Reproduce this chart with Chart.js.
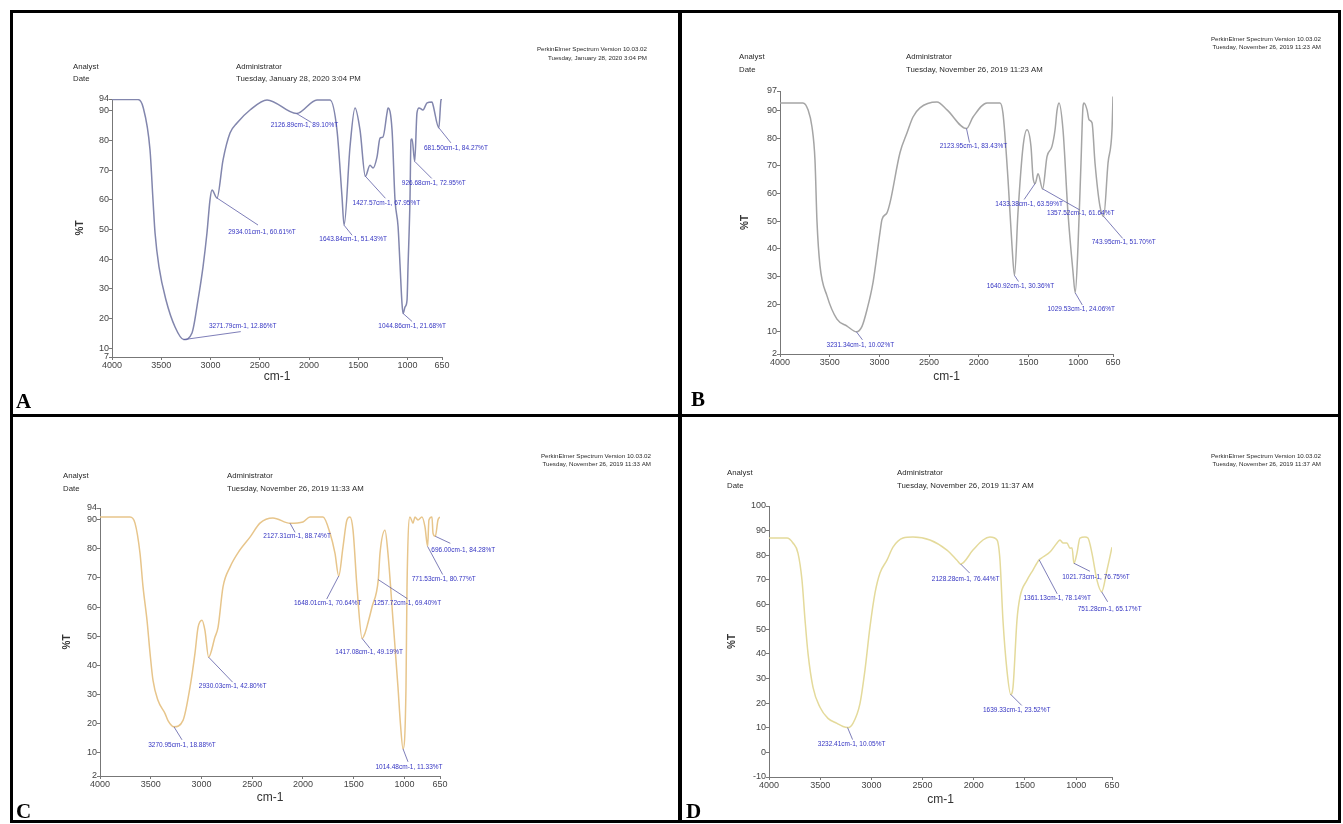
<!DOCTYPE html>
<html>
<head>
<meta charset="utf-8">
<title>FTIR spectra A-D</title>
<script src="https://cdn.jsdelivr.net/npm/chart.js@4.4.1/dist/chart.umd.min.js"></script>
<style>
  body { margin: 0; background: #fff; }
  #page { position: relative; width: 1343px; height: 824px; overflow: hidden; background: #fff; }
  #page canvas { position: absolute; left: 0; top: 0; }
  .rule { position: absolute; background: #000; }
</style>
</head>
<body>
<div id="page">
  <div class="rule" style="left:10px;top:10px;width:1331px;height:3px"></div>
  <div class="rule" style="left:10px;top:414px;width:1331px;height:3px"></div>
  <div class="rule" style="left:10px;top:820px;width:1331px;height:3px"></div>
  <div class="rule" style="left:10px;top:10px;width:3px;height:813px"></div>
  <div class="rule" style="left:678px;top:10px;width:4px;height:813px"></div>
  <div class="rule" style="left:1338px;top:10px;width:3px;height:813px"></div>
  <canvas id="chartA" width="1343" height="824"></canvas>
  <canvas id="chartB" width="1343" height="824"></canvas>
  <canvas id="chartC" width="1343" height="824"></canvas>
  <canvas id="chartD" width="1343" height="824"></canvas>
</div>
<script>
// wavenumber axis, shared by all four spectra
const xTicks = [4000, 3500, 3000, 2500, 2000, 1500, 1000, 650];

const aYTicks = [94, 90, 80, 70, 60, 50, 40, 30, 20, 10, 7];
const bYTicks = [97, 90, 80, 70, 60, 50, 40, 30, 20, 10, 2];
const cYTicks = [94, 90, 80, 70, 60, 50, 40, 30, 20, 10, 2];
const dYTicks = [100, 90, 80, 70, 60, 50, 40, 30, 20, 10, 0, -10];

// spectrum A (cm-1, %T)
const aWave = [4000, 3736, 3685, 3614, 3584, 3563, 3523, 3452, 3360, 3272, 3188, 3127, 3076, 3036, 3005, 2985, 2934, 2873, 2802, 2731, 2599, 2426, 2127, 1919, 1787, 1716, 1665, 1644, 1584, 1533, 1482, 1428, 1381, 1350, 1310, 1279, 1249, 1208, 1198, 1157, 1127, 1096, 1076, 1056, 1045, 1025, 1005, 995, 975, 965, 954, 927, 904, 883, 843, 802, 751, 741, 682, 660, 650];
const aT = [93.8, 93.8, 91.3, 76.8, 60, 48.8, 37.4, 26.2, 17.1, 12.86, 15.1, 26.2, 37.4, 48.8, 60, 63.3, 60.61, 73.4, 82.5, 85.9, 90.3, 93.7, 89.1, 93.7, 93.7, 83.5, 61, 51.43, 77.8, 91, 83.5, 67.95, 71.7, 70.7, 74.4, 80.8, 81.2, 89.3, 91, 83.5, 60, 51, 38, 25, 21.68, 23.9, 26.2, 37.4, 60, 80.2, 80.5, 72.95, 89.3, 91, 90.3, 92.7, 93, 92, 84.27, 93.7, 94];
const aPeakWave = [3271.79, 2934.01, 2126.89, 1643.84, 1427.57, 1044.86, 926.68, 681.5];
const aPeakT = [12.86, 60.61, 89.1, 51.43, 67.95, 21.68, 72.95, 84.27];

// spectrum B
const bWave = [4000, 3769, 3718, 3678, 3648, 3628, 3598, 3527, 3427, 3326, 3231, 3175, 3125, 3064, 2994, 2974, 2924, 2893, 2793, 2722, 2662, 2592, 2421, 2320, 2124, 2058, 1917, 1787, 1757, 1706, 1666, 1641, 1606, 1555, 1515, 1475, 1455, 1433, 1404, 1358, 1314, 1264, 1233, 1213, 1193, 1153, 1103, 1052, 1030, 1002, 972, 952, 942, 911, 891, 861, 831, 781, 744, 700, 660, 650];
const bT = [92.7, 92.7, 90.2, 84, 72, 50, 34, 23, 14.6, 12.1, 10.02, 12, 18, 27.9, 45.9, 50.6, 53, 56.7, 74.7, 81.9, 87.6, 90.9, 93, 90.2, 83.43, 87.6, 92.7, 92.7, 89, 65, 41, 30.36, 53, 76.9, 83, 76.9, 66, 63.59, 67.1, 61.64, 73.3, 77, 83, 90, 92.7, 83, 53, 31.5, 24.06, 41, 71, 91.3, 92.7, 90.2, 86.6, 85.5, 71, 55.3, 51.7, 71, 83, 95];
const bPeakWave = [3231.34, 2123.95, 1640.92, 1433.38, 1357.52, 1029.53, 743.95];
const bPeakT = [10.02, 83.43, 30.36, 63.59, 61.64, 24.06, 51.7];

// spectrum C
const cWave = [4000, 3704, 3655, 3606, 3576, 3537, 3507, 3478, 3429, 3360, 3330, 3271, 3182, 3113, 3064, 3034, 2995, 2966, 2930, 2867, 2837, 2788, 2719, 2621, 2522, 2424, 2296, 2127, 2000, 1931, 1803, 1734, 1685, 1648, 1606, 1567, 1537, 1507, 1468, 1417, 1389, 1360, 1320, 1258, 1241, 1192, 1163, 1113, 1064, 1040, 1014, 985, 975, 946, 916, 897, 867, 828, 798, 772, 759, 729, 719, 696, 670, 650];
const cT = [90.9, 90.9, 88.8, 78.5, 66.9, 55.5, 44.2, 34.9, 28, 23.5, 21, 18.88, 21.1, 32.5, 44.2, 53, 55.5, 52, 42.8, 49.7, 53, 66.9, 73.7, 79.6, 84, 88.8, 90.6, 88.74, 89.2, 90.9, 90.9, 85.4, 78.5, 70.64, 80.6, 89.9, 90.9, 86.4, 66.9, 49.19, 51, 54.5, 60, 69.4, 78.5, 86.4, 78.5, 55.5, 32.5, 20, 11.33, 32.5, 66.9, 90.9, 88.8, 90.9, 89.9, 90.9, 87.5, 80.77, 89.9, 90.9, 85.4, 84.28, 89.9, 90.9];
const cPeakWave = [3270.95, 2930.03, 2127.31, 1648.01, 1417.08, 1257.72, 1014.48, 771.53, 696.0];
const cPeakT = [18.88, 42.8, 88.74, 70.64, 49.19, 69.4, 11.33, 80.77, 84.28];

// spectrum D
const dWave = [4000, 3824, 3766, 3717, 3678, 3648, 3619, 3570, 3502, 3424, 3336, 3277, 3232, 3180, 3111, 3063, 3014, 2965, 2916, 2848, 2789, 2691, 2594, 2428, 2262, 2164, 2128, 2008, 1910, 1842, 1773, 1744, 1715, 1676, 1639, 1617, 1578, 1549, 1480, 1422, 1361, 1324, 1256, 1187, 1158, 1129, 1090, 1061, 1040, 1022, 992, 963, 914, 885, 846, 797, 751, 699, 650];
const dT = [87, 87, 85, 80.9, 70, 53.7, 40.2, 26.4, 18.3, 13.8, 11.8, 10.5, 10.05, 11.8, 19.9, 33.3, 50.8, 64.6, 72.8, 78, 83.3, 87, 87.4, 86.2, 82.1, 78, 76.44, 82.1, 86.2, 87.4, 86.2, 78, 53.7, 33.3, 23.52, 26.4, 53.7, 63, 69.9, 74, 78.14, 79.3, 81.3, 85, 86.2, 85, 85, 82.9, 83, 76.75, 80.9, 87, 87.4, 87, 80.9, 69.9, 65.17, 74, 83.3];
const dPeakWave = [3232.41, 2128.28, 1639.33, 1361.13, 1021.73, 751.28];
const dPeakT = [10.05, 76.44, 23.52, 78.14, 76.75, 65.17];

const runDates = [
  "Tuesday, January 28, 2020 3:04 PM",
  "Tuesday, November 26, 2019 11:23 AM",
  "Tuesday, November 26, 2019 11:33 AM",
  "Tuesday, November 26, 2019 11:37 AM",
];
const panelLetters = ["A", "B", "C", "D"];

// label placement: [text dx, text dy, leader dx, leader dy] from the peak pixel
const aLabelPos = [[59, -13, 57, -8], [45, 34, 41, 27], [8, 12, 15, 9], [9, 14, 8, 10], [21, 27, 20, 22], [9, 13, 9, 8], [19, 22, 17, 17], [17, 20, 12, 15]];
const bLabelPos = [[4, 13, 6, 8], [7, 18, 3, 14], [6, 11, 4, 6], [-6, 21, -11, 16], [38, 24, 37, 21], [6, 16, 7, 12], [20, 26, 19, 22]];
const cLabelPos = [[8, 18, 8, 13], [24, 29, 24, 25], [7, 13, 5, 9], [-11, 27, -12, 23], [7, 14, 8, 10], [29, 24, 29, 19], [6, 18, 5, 13], [16, 33, 15, 28], [28, 14, 15, 7]];
const dLabelPos = [[4, 17, 5, 12], [5, 15, 9, 9], [6, 16, 11, 11], [18, 38, 18, 34], [22, 14, 16, 8], [8, 17, 6, 10]];

const FONT = "'Liberation Sans', Arial, sans-serif";
Chart.defaults.font.family = FONT;

const panels = [
  { id: "chartA", wave: aWave, t: aT, yTicks: aYTicks, peakWave: aPeakWave, peakT: aPeakT, labelPos: aLabelPos,
    color: "#8286ad", plot: [112, 99, 442, 357], yTitleX: 80, xTitleY: 377,
    head: [73, 236, 67, 79], stamp: [647, 49, 58], letter: [16, 408] },
  { id: "chartB", wave: bWave, t: bT, yTicks: bYTicks, peakWave: bPeakWave, peakT: bPeakT, labelPos: bLabelPos,
    color: "#a5a5a5", plot: [780, 91, 1113, 354], yTitleX: 745, xTitleY: 377,
    head: [739, 906, 57, 70], stamp: [1321, 39, 47], letter: [691, 406] },
  { id: "chartC", wave: cWave, t: cT, yTicks: cYTicks, peakWave: cPeakWave, peakT: cPeakT, labelPos: cLabelPos,
    color: "#e7c58b", plot: [100, 508, 440, 776], yTitleX: 67, xTitleY: 798,
    head: [63, 227, 476, 489], stamp: [651, 456, 464], letter: [16, 818] },
  { id: "chartD", wave: dWave, t: dT, yTicks: dYTicks, peakWave: dPeakWave, peakT: dPeakT, labelPos: dLabelPos,
    color: "#e4da9b", plot: [769, 506, 1112, 777], yTitleX: 732, xTitleY: 800,
    head: [727, 897, 473, 486], stamp: [1321, 456, 464], letter: [686, 818] },
];

const panelText = {
  id: "panelText",
  afterDraw(chart) {
    const i = panels.findIndex((q) => q.id === chart.canvas.id);
    const p = panels[i];
    const ctx = chart.ctx;
    const xs = chart.scales.x;
    const ys = chart.scales.y;
    ctx.save();

    // peak labels with leader lines
    ctx.textAlign = "center";
    ctx.textBaseline = "middle";
    ctx.font = `6.5px ${FONT}`;
    p.peakWave.forEach((w, k) => {
      const px = xs.getPixelForValue(w);
      const py = ys.getPixelForValue(p.peakT[k]);
      const [tx, ty, lx, ly] = p.labelPos[k];
      ctx.strokeStyle = "#5d5da6";
      ctx.lineWidth = 0.8;
      ctx.beginPath();
      ctx.moveTo(px, py);
      ctx.lineTo(px + lx, py + ly);
      ctx.stroke();
      ctx.fillStyle = "#3434c2";
      ctx.fillText(`${w.toFixed(2)}cm-1, ${p.peakT[k].toFixed(2)}%T`, px + tx, py + ty);
    });

    // instrument header
    const [lx, rx, y1, y2] = p.head;
    ctx.fillStyle = "#2a2a2a";
    ctx.textAlign = "left";
    ctx.font = `7.8px ${FONT}`;
    ctx.fillText("Analyst", lx, y1);
    ctx.fillText("Date", lx, y2);
    ctx.fillText("Administrator", rx, y1);
    ctx.fillText(runDates[i], rx, y2);

    const [sx, sy1, sy2] = p.stamp;
    ctx.textAlign = "right";
    ctx.font = `6.2px ${FONT}`;
    ctx.fillText("PerkinElmer Spectrum Version 10.03.02", sx, sy1);
    ctx.fillText(runDates[i], sx, sy2);

    // panel letter
    ctx.fillStyle = "#000";
    ctx.textAlign = "left";
    ctx.textBaseline = "alphabetic";
    ctx.font = "bold 21px 'Liberation Serif', 'Times New Roman', serif";
    ctx.fillText(panelLetters[i], p.letter[0], p.letter[1]);
    ctx.restore();
  },
};

function createSpectrum(p) {
  const [left, top, right, bottom] = p.plot;
  const yWidth = left - p.yTitleX + 6;
  const xHeight = p.xTitleY - bottom + 7.2;

  new Chart(document.getElementById(p.id), {
    type: "line",
    data: {
      datasets: [
        {
          data: p.wave.map((w, k) => ({ x: w, y: p.t[k] })),
          borderColor: p.color,
          borderWidth: 1.5,
          pointRadius: 0,
          fill: false,
          cubicInterpolationMode: "monotone",
        },
      ],
    },
    options: {
      responsive: false,
      animation: false,
      events: [],
      layout: {
        padding: { left: left - yWidth, top: top, right: 1343 - right, bottom: 824 - bottom - xHeight },
      },
      plugins: { legend: { display: false }, tooltip: { enabled: false } },
      scales: {
        x: {
          type: "linear",
          reverse: true,
          min: 650,
          max: 4000,
          afterBuildTicks: (s) => { s.ticks = xTicks.map((v) => ({ value: v })); },
          afterFit: (s) => { s.height = xHeight; },
          ticks: { autoSkip: false, maxRotation: 0, padding: 0, color: "#444", font: { size: 9 }, callback: (v) => String(v) },
          grid: { drawOnChartArea: false, tickLength: 3, color: "#777" },
          border: { color: "#777" },
          title: { display: true, text: "cm-1", padding: 0, color: "#333", font: { size: 12 } },
        },
        y: {
          min: p.yTicks[p.yTicks.length - 1],
          max: p.yTicks[0],
          afterBuildTicks: (s) => { s.ticks = p.yTicks.map((v) => ({ value: v })); },
          afterFit: (s) => { s.width = yWidth; },
          ticks: { autoSkip: false, padding: 0, color: "#444", font: { size: 9 }, callback: (v) => String(v) },
          grid: { drawOnChartArea: false, tickLength: 3, color: "#777" },
          border: { color: "#777" },
          title: { display: true, text: "%T", padding: 0, color: "#333", font: { size: 10, weight: "bold" } },
        },
      },
    },
    plugins: [panelText],
  });
}

panels.forEach(createSpectrum);
</script>
</body>
</html>
